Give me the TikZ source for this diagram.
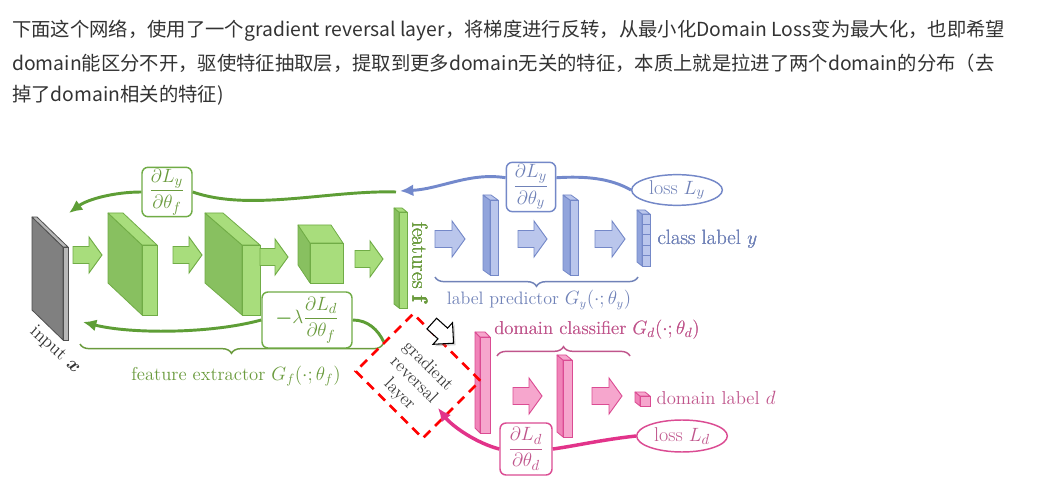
\documentclass[tikz,border=0pt]{standalone}
\usepackage{amsmath,amssymb}
\usepackage{fontspec}
\newfontfamily\cjkfont{Noto Sans CJK SC}
\usetikzlibrary{arrows.meta,shapes.geometric,shapes.arrows,decorations.pathreplacing,shadows}
\definecolor{paratext}{HTML}{333333}
\definecolor{grnfront}{HTML}{A8DD7C}
\definecolor{grnside}{HTML}{88C060}
\definecolor{grnedge}{HTML}{70AC46}
\definecolor{grnline}{HTML}{5E9E36}
\definecolor{grntext}{HTML}{6A9B3D}
\definecolor{blufront}{HTML}{BAC6EC}
\definecolor{bluside}{HTML}{91A4DC}
\definecolor{bluedge}{HTML}{7488C8}
\definecolor{bluline}{HTML}{7389CC}
\definecolor{blutext}{HTML}{7082B8}
\definecolor{pnkfront}{HTML}{F6A6CD}
\definecolor{pnkside}{HTML}{F083B8}
\definecolor{pnkedge}{HTML}{DB4C93}
\definecolor{pnkline}{HTML}{E2338A}
\definecolor{pnktext}{HTML}{C0558C}
\definecolor{gryfront}{HTML}{B8B8B8}
\definecolor{gryside}{HTML}{808080}
\definecolor{gryedge}{HTML}{4F4F4F}
\definecolor{grlred}{HTML}{FF0000}
\definecolor{grltext}{HTML}{3A3A3A}
\tikzset{
  para/.style={font=\cjkfont\fontsize{14.5}{17}\selectfont, text=paratext, inner sep=0pt, anchor=west},
  lbl/.style={text=#1text, font=\fontsize{14}{16}\selectfont, inner sep=1pt},
  gradbox/.style={draw=#1edge, fill=white, rounded corners=4.5pt, line width=1.1pt,
    text=#1text, inner sep=1pt, font=\fontsize{15.5}{18}\selectfont},
  lossnode/.style={ellipse, draw=#1edge, fill=white, line width=1.1pt, text=#1text,
    inner sep=0pt, minimum width=68pt, minimum height=23pt, font=\fontsize{15}{17}\selectfont},
  backflow/.style={draw=#1line, line width=2.2pt, -{Latex[length=10pt,width=9pt]}},
  feed/.style={draw=#1line, line width=2.2pt},
  curly/.style={draw=#1text, line width=1.1pt, decorate, decoration={brace, amplitude=7pt}},
  grlbox/.style={draw=grlred, dash pattern=on 7pt off 5pt, line width=2pt, rotate=-45,
    minimum width=71pt, minimum height=61pt, align=center, text=grltext,
    font=\fontsize{13.5}{15}\selectfont, inner sep=0pt},
}
% front face x0,y0,x1,y1; depth dx,dy; colour family
\newcommand{\slab}[7]{
  \filldraw[fill=#7side, draw=#7edge, line width=0.6pt, line join=round]
    (#1,#2) -- (#1,#4) -- ({#1-#5},{#4-#6}) -- ({#1-#5},{#2-#6}) -- cycle;
  \filldraw[fill=#7front, draw=#7edge, line width=0.6pt, line join=round]
    (#1,#2) -- (#3,#2) -- ({#3-#5},{#2-#6}) -- ({#1-#5},{#2-#6}) -- cycle;
  \filldraw[fill=#7front, draw=#7edge, line width=0.6pt] (#1,#2) rectangle (#3,#4);
}
% block arrow from x0 to x1 at height yc
\newcommand{\flowarrow}[4]{
  \filldraw[fill=#4front, draw=#4edge, line width=0.7pt]
    (#1,{#3-8.5}) -- ({#2-13},{#3-8.5}) -- ({#2-13},{#3-18}) -- (#2,#3)
    -- ({#2-13},{#3+18}) -- ({#2-13},{#3+8.5}) -- (#1,{#3+8.5}) -- cycle;
}

\begin{document}
\begin{tikzpicture}[x=0.75pt, y=-0.75pt]
\fill[white] (0,0) rectangle (1064,495);
\useasboundingbox (0,0) rectangle (1064,495);

%% ---- paragraph -----------------------------------------------------------
\node[para] (line1) at (12,31) {下面这个网络，使用了一个gradient reversal layer，将梯度进行反转，从最小化Domain Loss变为最大化，也即希望};
\node[para] (line2) at (12,63) {domain能区分不开，驱使特征抽取层，提取到更多domain无关的特征，本质上就是拉进了两个domain的分布（去};
\node[para] (line3) at (12,95) {掉了domain相关的特征)};

%% ---- feature extractor ---------------------------------------------------
\slab{63}{247}{68}{340}{31}{30}{gry}
\node[rotate=-42, text=paratext, font=\fontsize{14}{16}\selectfont] (inputx) at (55,350) {input $\boldsymbol{x}$};
\slab{142}{245}{157}{315}{34}{32}{grn}
\slab{242}{245}{260}{315}{37}{32}{grn}
\slab{310}{243}{343}{283}{12}{18}{grn}
\slab{399}{212}{407}{308}{5}{4}{grn}
\foreach \a/\b/\y in {73/102/255, 173/202/255, 260/288/257, 355/383/259}
  \flowarrow{\a}{\b}{\y}{grn}
\node[lbl=grn, rotate=-90, font=\fontsize{16}{18}\selectfont] (featlbl) at (420,262) {features $\mathbf{f}$};
\draw[curly=grn] (383,344) -- (80,344);
\node[lbl=grn] (extrlbl) at (236,376) {feature extractor $G_f(\cdot;\theta_f)$};

%% ---- label predictor -----------------------------------------------------
\slab{490}{200}{498}{275}{7}{5}{blu}
\slab{570}{200}{578}{275}{7}{5}{blu}
\slab{642}{214}{650}{266}{5}{4}{blu}
\foreach \k in {1,...,4}
  \draw[draw=bluedge, line width=0.6pt] (642,{214+\k*10.4}) -- (650,{214+\k*10.4});
\foreach \a/\b in {435/465, 518/547, 595/625}
  \flowarrow{\a}{\b}{239}{blu}
\node[lbl=blu, anchor=west, font=\fontsize{15.5}{18}\selectfont] (classlbl) at (656,239) {class label $y$};
\draw[curly=blu] (638,277) -- (435,277);
\node[lbl=blu, font=\fontsize{13.5}{16}\selectfont] (predlbl) at (539,300) {label predictor $G_y(\cdot;\theta_y)$};

%% ---- domain classifier ---------------------------------------------------
\slab{480}{337}{490}{433}{5}{5}{pnk}
\slab{563}{360}{572}{437}{6}{5}{pnk}
\slab{640}{396}{650}{406}{5}{4}{pnk}
\foreach \a/\b in {513/542, 592/622}
  \flowarrow{\a}{\b}{396}{pnk}
\node[lbl=pnk] (clsflbl) at (597,330) {domain classifier $G_d(\cdot;\theta_d)$};
\draw[curly=pnk] (497,356) -- (630,356);
\node[lbl=pnk, anchor=west] (domlbl) at (655,398) {domain label $d$};

%% ---- gradient reversal layer ---------------------------------------------
% text sits a little toward the lower-left of the dashed frame
\node[grlbox] (grl) at (418,376)
  {\raisebox{-5pt}[\height][\depth]{\begin{tabular}{@{}c@{}}gradient\\reversal\\layer\end{tabular}}};
\node[single arrow, draw=black, fill=white, line width=0.8pt, rotate=-42,
  minimum height=22pt, minimum width=21pt, inner sep=5pt,
  single arrow head extend=5.5pt,
  drop shadow={shadow xshift=1.5pt, shadow yshift=-1.5pt, opacity=0.35}] (feedarrow) at (440,331) {};

%% ---- losses and gradients ------------------------------------------------
\node[lossnode=blu] (lossy) at (677,190) {loss $L_y$};
\node[gradbox=blu, minimum width=37pt, minimum height=37pt] (dLyy) at (531,187) {$\dfrac{\partial L_y}{\partial \theta_y}$};
\node[gradbox=grn, minimum width=37.5pt, minimum height=37pt] (dLyf) at (167,192) {$\dfrac{\partial L_y}{\partial \theta_f}$};
\node[gradbox=grn, minimum width=67.5pt, minimum height=42pt] (dLdf) at (307,320)
  {$\textcolor{grnline}{\boldsymbol{-}}\lambda\dfrac{\partial L_d}{\partial \theta_f}$};
\node[lossnode=pnk, minimum height=24pt] (lossd) at (682,436) {loss $L_d$};
\node[gradbox=pnk, minimum width=39pt, minimum height=39pt] (dLdd) at (526,449) {$\dfrac{\partial L_d}{\partial \theta_d}$};
\coordinate (ytip) at (400,191);
\coordinate (gstart) at (396,192);
\coordinate (xtop) at (69,213);
\coordinate (xbot) at (83,322);
\coordinate (dtip) at (438,408);

% class loss flows back through the label predictor
\draw[feed=blu] (lossy.west) .. controls (610,178) and (585,176) .. (dLyy.20);
\draw[backflow=blu] (dLyy.160) .. controls (470,172) and (440,189) .. (ytip);
\draw[feed=grn] (gstart) .. controls (330,190) and (250,212) .. (dLyf.east);
\draw[backflow=grn] (dLyf.west) .. controls (115,192) and (88,199) .. (xtop);
% domain loss flows back, reversed at the layer
\draw[feed=pnk, line width=2.6pt] (lossd.west) .. controls (600,440) and (575,446) .. (dLdd.east);
\draw[backflow=pnk, line width=2.6pt] (dLdd.west) .. controls (476,443) and (452,426) .. (dtip);
\draw[feed=grn] (grl.west) .. controls (378,330) and (368,320) .. (dLdf.east);
\draw[backflow=grn] (dLdf.west) .. controls (210,334) and (130,334) .. (xbot);

\end{tikzpicture}
\end{document}
